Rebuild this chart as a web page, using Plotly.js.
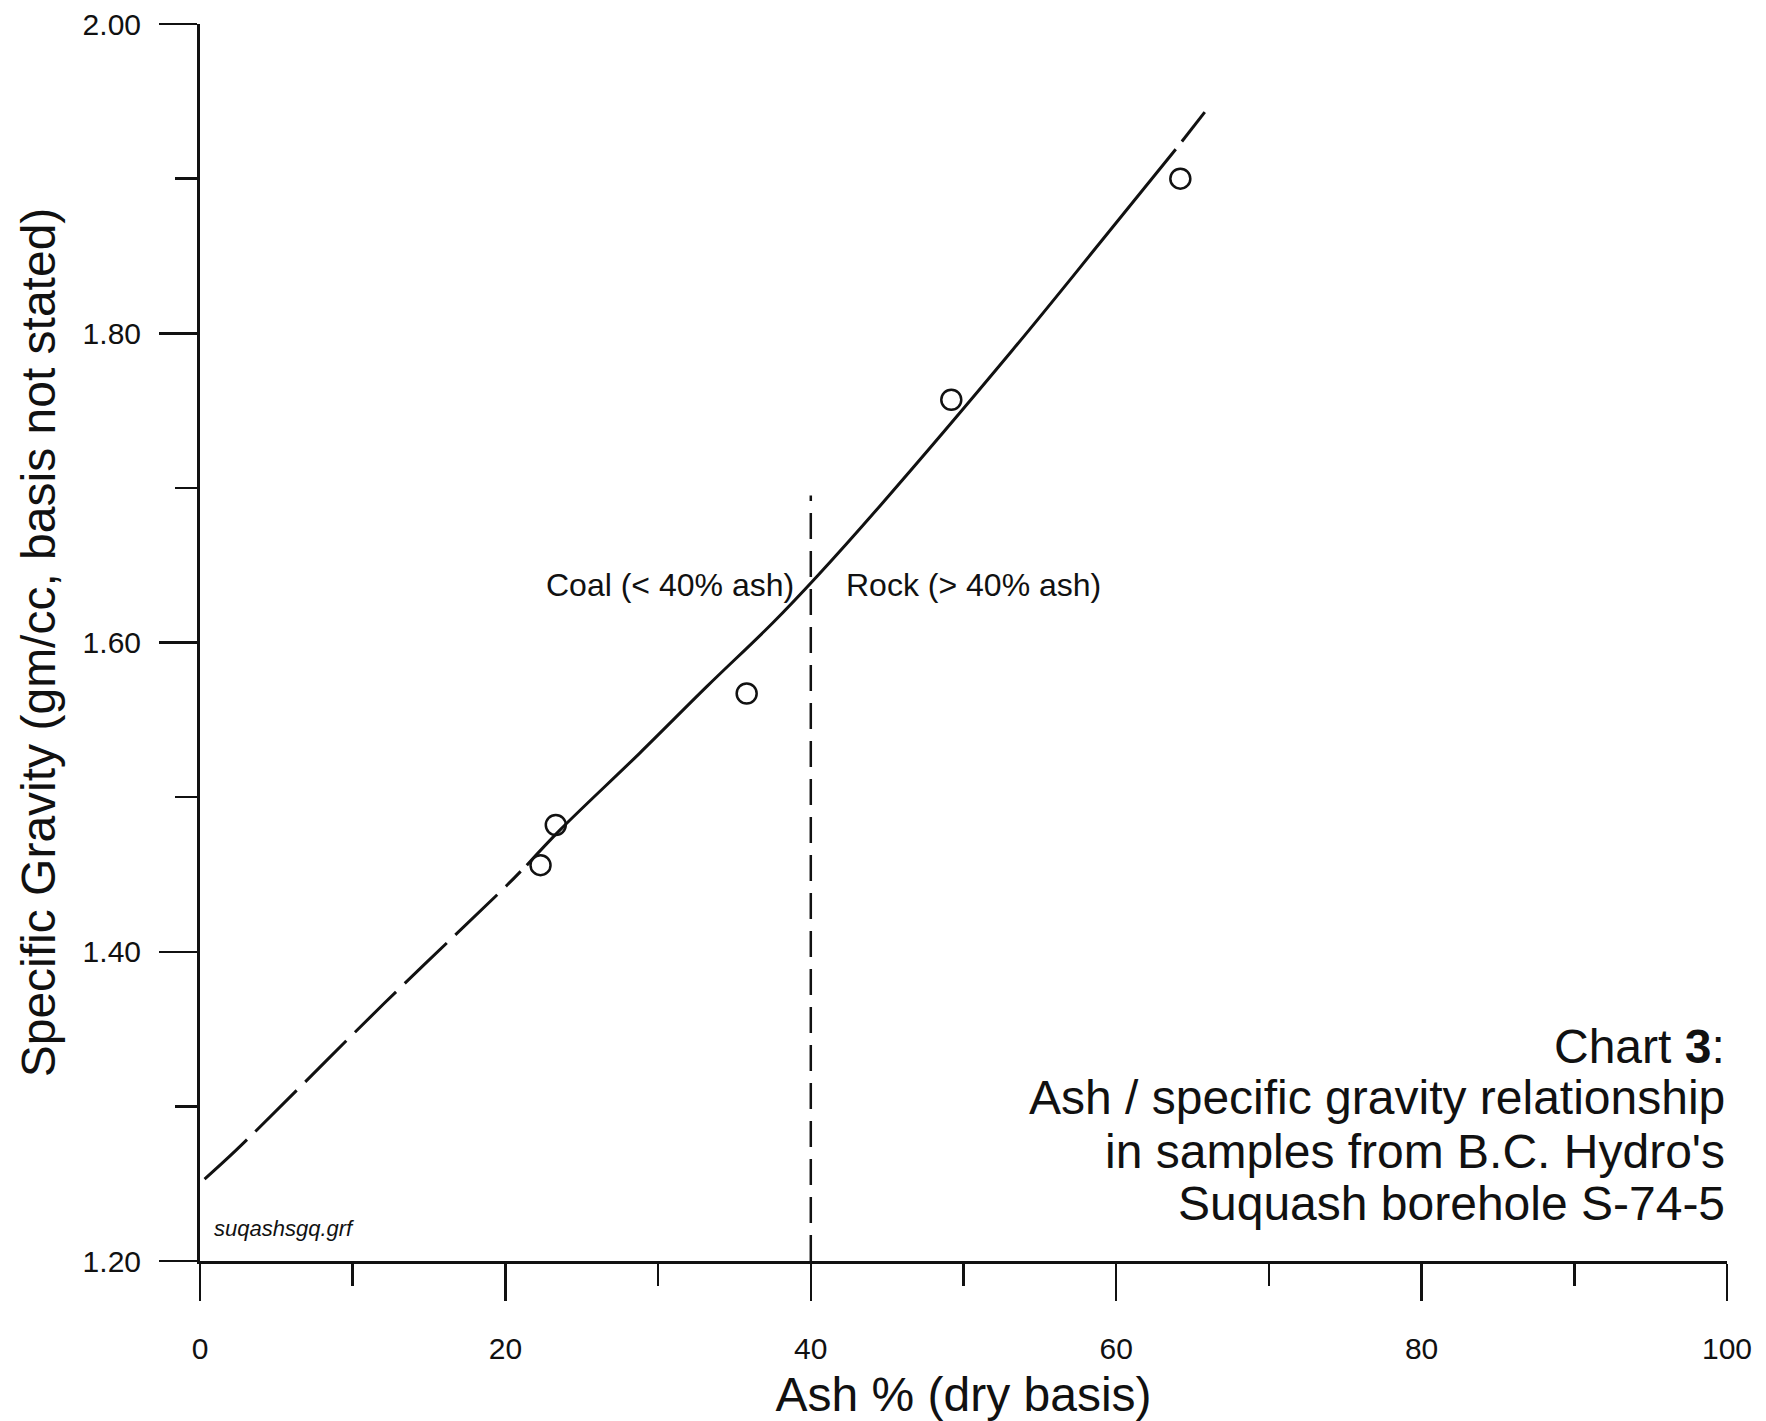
<!DOCTYPE html>
<html>
<head>
<meta charset="utf-8">
<script src="https://cdn.plot.ly/plotly-3.0.1.min.js"></script>
<style>html,body{margin:0;padding:0;background:#fff;}#chart{width:1766px;height:1421px;}</style>
</head>
<body>
<div id="chart"></div>
<script>
// Sample data: ash % (dry basis) vs specific gravity
const ashPct = [22.3, 23.3, 35.8, 49.2, 64.2];
const specGravity = [1.456, 1.482, 1.567, 1.757, 1.900];

// Fitted curve (dashed extrapolations at both ends)
const fitLowX = [0.3, 2.4, 12.1, 20.1, 21.0];
const fitLowY = [1.253, 1.272, 1.367, 1.443, 1.452];
const fitMidX = [21.4, 23.6, 28.8, 33.2, 37.5, 40.4, 44.5, 53.2, 58.9, 63.9];
const fitMidY = [1.456, 1.479, 1.5285, 1.5716, 1.6126, 1.6427, 1.688, 1.789, 1.858, 1.919];
const fitHighX = [64.3, 65.8];
const fitHighY = [1.924, 1.943];

// Coal / rock divider
const dividerX = [40, 40];
const dividerY = [1.20, 1.695];

const yTickVals = [1.2, 1.4, 1.6, 1.8, 2.0];
const yTickText = ["1.20", "1.40", "1.60", "1.80", "2.00"];
const xTickVals = [0, 20, 40, 60, 80, 100];
const xTickText = ["0", "20", "40", "60", "80", "100"];

const captionLines = ["Chart <b>3</b>:", "Ash / specific gravity relationship", "in samples from B.C. Hydro's", "Suquash borehole S-74-5"];
const captionY = [1.339, 1.306, 1.271, 1.237];

const FONT = "Liberation Sans, Arial, Helvetica, sans-serif";
const INK = "#111111";

const traces = [
  {x: fitLowX, y: fitLowY, mode: "lines", line: {color: INK, width: 3, dash: "58px,12px", shape: "spline"}, hoverinfo: "skip", showlegend: false},
  {x: fitMidX, y: fitMidY, mode: "lines", line: {color: INK, width: 3, shape: "spline", smoothing: 1}, hoverinfo: "skip", showlegend: false},
  {x: fitHighX, y: fitHighY, mode: "lines", line: {color: INK, width: 3}, hoverinfo: "skip", showlegend: false},
  {x: dividerX, y: dividerY, mode: "lines", line: {color: INK, width: 2.5, dash: "26px,12px"}, hoverinfo: "skip", showlegend: false},
  {x: ashPct, y: specGravity, mode: "markers", marker: {symbol: "circle-open", size: 20, color: INK, line: {width: 2.5, color: INK}}, showlegend: false}
];

const annotations = [
  {x: 39.0, y: 1.637, xref: "x", yref: "y", text: "Coal (&lt; 40% ash)", showarrow: false, xanchor: "right", yanchor: "middle", font: {family: FONT, size: 32, color: INK}},
  {x: 42.2, y: 1.637, xref: "x", yref: "y", text: "Rock (&gt; 40% ash)", showarrow: false, xanchor: "left", yanchor: "middle", font: {family: FONT, size: 32, color: INK}},
  {x: 0.8, y: 1.221, xref: "x", yref: "y", text: "<i>suqashsgq.grf</i>", showarrow: false, xanchor: "left", yanchor: "middle", font: {family: FONT, size: 22, color: INK}}
];
captionLines.forEach((t, i) => {
  annotations.push({x: 100, y: captionY[i], xref: "x", yref: "y", text: t, showarrow: false, xanchor: "right", yanchor: "middle", align: "right", font: {family: FONT, size: 48, color: INK}});
});

const layout = {
  width: 1766, height: 1421,
  margin: {l: 200, r: 39, t: 24, b: 160, pad: 0},
  paper_bgcolor: "#ffffff", plot_bgcolor: "#ffffff",
  font: {family: FONT, color: INK},
  showlegend: false,
  xaxis: {
    range: [0, 100], tickvals: xTickVals, ticktext: xTickText,
    ticks: "outside", ticklen: 37, tickwidth: 2.5, tickcolor: INK,
    minor: {dtick: 10, ticks: "outside", ticklen: 22, tickwidth: 2.5, tickcolor: INK, showgrid: false},
    showline: true, linecolor: INK, linewidth: 3, showgrid: false, zeroline: false,
    tickfont: {family: FONT, size: 30, color: INK}, ticklabelstandoff: 22,
    title: {text: "Ash % (dry basis)", font: {family: FONT, size: 48, color: INK}, standoff: 14},
    automargin: false
  },
  yaxis: {
    range: [1.2, 2.0], tickvals: yTickVals, ticktext: yTickText,
    ticks: "outside", ticklen: 38, tickwidth: 2.5, tickcolor: INK,
    minor: {dtick: 0.1, tick0: 1.2, ticks: "outside", ticklen: 22, tickwidth: 2.5, tickcolor: INK, showgrid: false},
    showline: true, linecolor: INK, linewidth: 3, showgrid: false, zeroline: false,
    tickfont: {family: FONT, size: 30, color: INK}, ticklabelstandoff: 12,
    title: {text: "Specific Gravity (gm/cc, basis not stated)", font: {family: FONT, size: 48, color: INK}, standoff: 12},
    automargin: false
  },
  annotations: annotations
};

Plotly.newPlot("chart", traces, layout, {displayModeBar: false, staticPlot: true});
</script>
</body>
</html>
